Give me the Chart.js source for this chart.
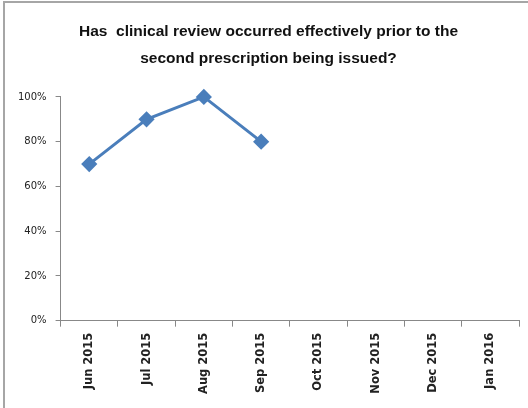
<!DOCTYPE html>
<html>
<head>
<meta charset="utf-8">
<script src="https://cdn.jsdelivr.net/npm/chart.js@4"></script>
<style>
  body { margin: 0; background: #fff; }
  #wrap { width: 528px; height: 408px; }
</style>
</head>
<body>
<div id="wrap"><canvas id="chart" width="528" height="408"></canvas></div>
<script>
const months = ['Jun 2015', 'Jul 2015', 'Aug 2015', 'Sep 2015', 'Oct 2015', 'Nov 2015', 'Dec 2015', 'Jan 2016'];
const reviewed = [0.70, 0.90, 1.00, 0.80, null, null, null, null];
const yTicks = [0, 0.2, 0.4, 0.6, 0.8, 1.0];

// grey frame on the left and top, like the pasted excel picture
const frame = {
    id: 'frame',
    beforeDraw(chart) {
        const c = chart.ctx;
        c.save();
        c.fillStyle = '#fff';
        c.fillRect(0, 0, chart.width, chart.height);
        c.strokeStyle = '#a6a6a6';
        c.lineWidth = 2;
        c.beginPath();
        c.moveTo(4, chart.height);
        c.lineTo(4, 2);
        c.lineTo(chart.width, 2);
        c.stroke();
        c.restore();
    }
};

const ctx = document.getElementById('chart');
new Chart(ctx, {
    type: 'line',
    data: {
        labels: months,
        datasets: [{
            label: 'Clinical review',
            data: reviewed,
            borderColor: '#4a7ebb',
            backgroundColor: '#4a7ebb',
            borderWidth: 3,
            pointStyle: 'rectRot',
            pointRadius: 6,
            pointHoverRadius: 6,
            tension: 0,
            clip: false
        }]
    },
    options: {
        responsive: false,
        animation: false,
        layout: { padding: { left: 9, right: 0, top: 12, bottom: 8 } },
        plugins: {
            legend: { display: false },
            tooltip: { enabled: false },
            title: {
                display: true,
                text: ['Has  clinical review occurred effectively prior to the', 'second prescription being issued?'],
                color: '#111',
                font: { family: 'Liberation Sans', size: 15.5, weight: 'bold', lineHeight: 1.74 },
                padding: { top: 6, bottom: 25 }
            }
        },
        scales: {
            x: {
                offset: true,
                grid: { offset: true, drawOnChartArea: false, drawTicks: true, tickLength: 6, color: '#888' },
                border: { color: '#888', width: 1 },
                ticks: {
                    color: '#222',
                    minRotation: 90,
                    maxRotation: 90,
                    padding: 6,
                    font: { family: 'DejaVu Sans', size: 11.5, weight: 'bold' }
                }
            },
            y: {
                min: 0,
                max: 1,
                afterBuildTicks(axis) { axis.ticks = yTicks.map(v => ({ value: v })); },
                grid: { drawOnChartArea: false, drawTicks: true, tickLength: 5, color: '#888' },
                border: { color: '#888', width: 1 },
                ticks: {
                    color: '#222',
                    padding: 9,
                    font: { family: 'DejaVu Sans', size: 10 },
                    callback: v => Math.round(v * 100) + '%'
                }
            }
        }
    },
    plugins: [frame]
});
</script>
</body>
</html>
